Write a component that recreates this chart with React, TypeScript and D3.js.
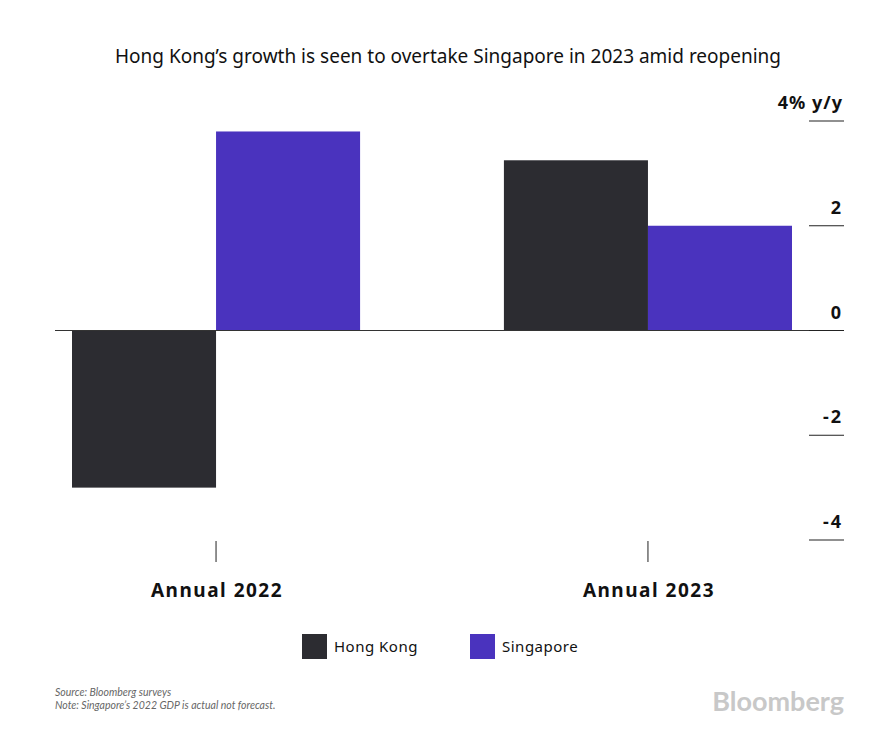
import * as d3 from "d3";

const categories = ["Annual 2022", "Annual 2023"];
const seriesNames = ["Hong Kong", "Singapore"];
const hongKong = [-3.0, 3.25];
const singapore = [3.8, 2.0];
const yTicks = [4, 2, 0, -2, -4];

const colors = ["#2c2c31", "#4a33be"];
const W = 896;
const H = 756;

export default function App() {
  const x = d3.scaleBand<string>().domain(categories).range([72, 792]).paddingInner(0.333).paddingOuter(0);
  const inner = d3.scaleBand<string>().domain(seriesNames).range([0, x.bandwidth()]);
  const y = d3.scaleLinear().domain([-4, 4]).range([540, 121]);
  const values = [hongKong, singapore];

  const font = "'Noto Sans', sans-serif";

  return (
    <svg width={W} height={H} style={{ position: "absolute", left: 0, top: 0, background: "#fff" }}>
      <text x={448} y={63} textAnchor="middle" fontFamily={font} fontSize={19} fill="#111">
        Hong Kong’s growth is seen to overtake Singapore in 2023 amid reopening
      </text>

      {categories.map((c, ci) =>
        seriesNames.map((s, si) => {
          const v = values[si][ci];
          const x0 = (x(c) ?? 0) + (inner(s) ?? 0);
          return (
            <rect
              key={c + s}
              x={x0}
              width={inner.bandwidth()}
              y={y(Math.max(0, v))}
              height={Math.abs(y(v) - y(0))}
              fill={colors[si]}
            />
          );
        })
      )}

      <line x1={55} x2={844} y1={y(0)} y2={y(0)} stroke="#333" strokeWidth={1} />

      {yTicks.map((t) => (
        <g key={t}>
          <line x1={809} x2={844} y1={y(t)} y2={y(t)} stroke="#222" strokeWidth={1.2} />
          <text x={843} y={y(t) - 12} textAnchor="end" fontFamily={font} fontWeight={700} fontSize={18} fill="#111" letterSpacing={t === 4 ? 1 : 2}>
            {t === 4 ? "4% y/y" : t < 0 ? `-${Math.abs(t)}` : `${t}`}
          </text>
        </g>
      ))}

      {categories.map((c) => {
        const cx = (x(c) ?? 0) + x.bandwidth() / 2;
        return (
          <g key={c}>
            <line x1={cx} x2={cx} y1={541} y2={562} stroke="#222" strokeWidth={1} />
            <text x={cx + 1} y={597} textAnchor="middle" fontFamily={font} fontWeight={700} fontSize={19} fill="#111" letterSpacing={1.5}>
              {c}
            </text>
          </g>
        );
      })}

      {seriesNames.map((s, i) => {
        const lx = 302 + i * 168;
        return (
          <g key={s}>
            <rect x={lx} y={634} width={25} height={25} fill={colors[i]} />
            <text x={lx + 32} y={652} fontFamily={font} fontSize={15} fill="#111" letterSpacing={0.5}>
              {s}
            </text>
          </g>
        );
      })}

      <text x={55} y={696} fontFamily="Lato, sans-serif" fontStyle="italic" fontSize={10.5} fill="#666">
        Source: Bloomberg surveys
      </text>
      <text x={55} y={709} fontFamily="Lato, sans-serif" fontStyle="italic" fontSize={10.5} fill="#666">
        Note: Singapore’s 2022 GDP is actual not forecast.
      </text>
      <text x={844} y={711} textAnchor="end" fontFamily="Lato, sans-serif" fontWeight={700} fontSize={27} fill="#c8c8c8">
        Bloomberg
      </text>
    </svg>
  );
}
